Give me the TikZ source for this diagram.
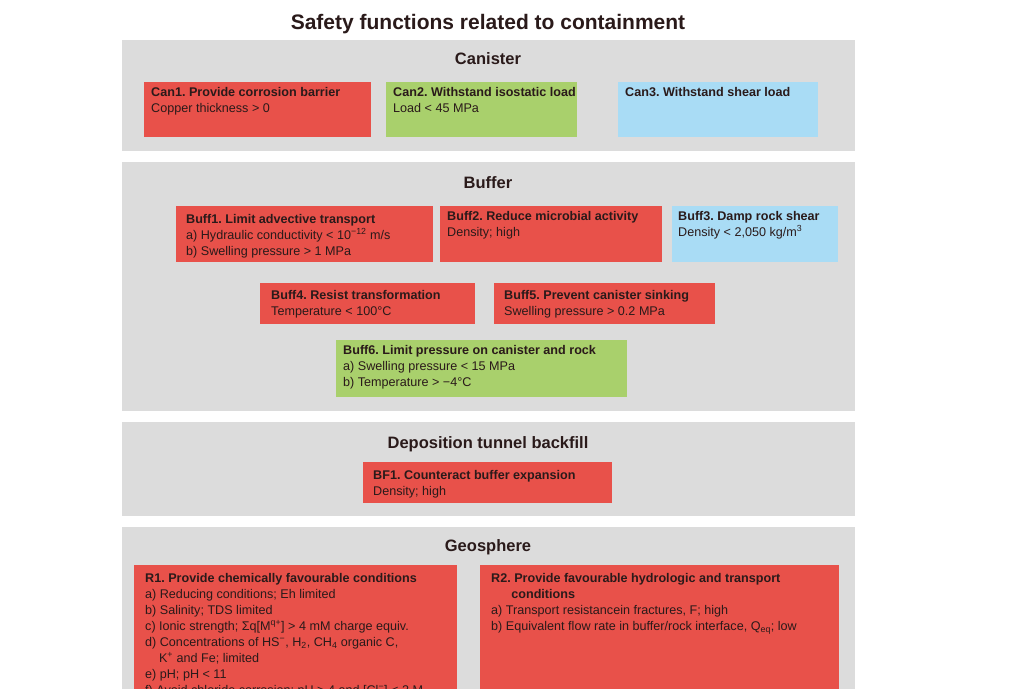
\documentclass[tikz,border=0pt]{standalone}
\usepackage{fontspec}
\setmainfont{Liberation Sans}
\frenchspacing
\definecolor{panelgray}{HTML}{DCDCDC}
\definecolor{sfred}{HTML}{E8514A}
\definecolor{sfgreen}{HTML}{A9D06C}
\definecolor{sfblue}{HTML}{A9DCF5}
\definecolor{sftext}{HTML}{2A1A1A}
\tikzset{
  panel/.style={fill=panelgray, anchor=north west, inner sep=0pt, minimum width=733pt},
  sfbox/.style={anchor=north west, inner sep=0pt},
  sftxt/.style={anchor=north west, inner sep=0pt, align=left, text=sftext,
    font=\fontsize{12.6}{16}\selectfont},
  heading/.style={font=\fontsize{16.5}{18}\selectfont\bfseries, text=sftext},
}
\begin{document}
\begin{tikzpicture}[x=1pt, y=-1pt]
\useasboundingbox (0,0) rectangle (1024,688);
\clip (0,0) rectangle (1024,688);
\fill[white] (0,0) rectangle (1024,688);

\node[font=\fontsize{21}{24}\selectfont\bfseries, text=sftext] (title) at (488,24) {Safety functions related to containment};

% panels
\node[panel, minimum height=111pt] (pcan) at (122,40) {};
\node[panel, minimum height=249pt] (pbuff) at (122,162) {};
\node[panel, minimum height=94pt] (pbf) at (122,422) {};
\node[panel, minimum height=200pt] (pgeo) at (122,527) {};
\node[heading] (hcan) at (488,59) {Canister};
\node[heading] (hbuff) at (488,183) {Buffer};
\node[heading] (hbf) at (488,444) {Deposition tunnel backfill};
\node[heading] (hgeo) at (488,547) {Geosphere};

% canister
\node[sfbox, fill=sfred, minimum width=227pt, minimum height=55pt] (can1) at (144,82) {};
\node[sftxt] at ([shift={(7,5)}]can1.north west) {\textbf{Can1. Provide corrosion barrier}\\Copper thickness > 0};
\node[sfbox, fill=sfgreen, minimum width=191pt, minimum height=55pt] (can2) at (386,82) {};
\node[sftxt] at ([shift={(7,5)}]can2.north west) {\textbf{Can2. Withstand isostatic load}\\Load < 45 MPa};
\node[sfbox, fill=sfblue, minimum width=200pt, minimum height=55pt] (can3) at (618,82) {};
\node[sftxt] at ([shift={(7,5)}]can3.north west) {\textbf{Can3. Withstand shear load}};

% buffer
\node[sfbox, fill=sfred, minimum width=257pt, minimum height=56pt] (buff1) at (176,206) {};
\node[sftxt] at ([shift={(10,8)}]buff1.north west) {\textbf{Buff1. Limit advective transport}\\a) Hydraulic conductivity < 10\textsuperscript{−12} m/s\\b) Swelling pressure > 1 MPa};
\node[sfbox, fill=sfred, minimum width=222pt, minimum height=56pt] (buff2) at (440,206) {};
\node[sftxt] at ([shift={(7,5)}]buff2.north west) {\textbf{Buff2. Reduce microbial activity}\\Density; high};
\node[sfbox, fill=sfblue, minimum width=166pt, minimum height=56pt] (buff3) at (672,206) {};
\node[sftxt] at ([shift={(6,5)}]buff3.north west) {\textbf{Buff3. Damp rock shear}\\Density < 2,050 kg/m\textsuperscript{3}};
\node[sfbox, fill=sfred, minimum width=215pt, minimum height=41pt] (buff4) at (260,283) {};
\node[sftxt] at ([shift={(11,7)}]buff4.north west) {\textbf{Buff4. Resist transformation}\\Temperature < 100°C};
\node[sfbox, fill=sfred, minimum width=221pt, minimum height=41pt] (buff5) at (494,283) {};
\node[sftxt] at ([shift={(10,7)}]buff5.north west) {\textbf{Buff5. Prevent canister sinking}\\Swelling pressure > 0.2 MPa};
\node[sfbox, fill=sfgreen, minimum width=291pt, minimum height=57pt] (buff6) at (336,340) {};
\node[sftxt] at ([shift={(7,5)}]buff6.north west) {\textbf{Buff6. Limit pressure on canister and rock}\\a) Swelling pressure < 15 MPa\\b) Temperature > −4°C};

% backfill
\node[sfbox, fill=sfred, minimum width=249pt, minimum height=41pt] (bf1) at (363,462) {};
\node[sftxt] at ([shift={(10,8)}]bf1.north west) {\textbf{BF1. Counteract buffer expansion}\\Density; high};

% geosphere
\node[sfbox, fill=sfred, minimum width=323pt, minimum height=160pt] (r1) at (134,565) {};
\node[sftxt] at ([shift={(11,8)}]r1.north west) {\textbf{R1. Provide chemically favourable conditions}\\a) Reducing conditions; Eh limited\\b) Salinity; TDS limited\\c) Ionic strength; Σq[M\textsuperscript{q+}] > 4 mM charge equiv.\\d) Concentrations of HS\textsuperscript{−}, H\textsubscript{2}, CH\textsubscript{4} organic C,\\\hspace{1.1em}K\textsuperscript{+} and Fe; limited\\e) pH; pH < 11\\f) Avoid chloride corrosion; pH > 4 and [Cl\textsuperscript{−}] < 2 M};
\node[sfbox, fill=sfred, minimum width=359pt, minimum height=160pt] (r2) at (480,565) {};
\node[sftxt] at ([shift={(11,8)}]r2.north west) {\textbf{R2. Provide favourable hydrologic and transport}\\\hspace{1.6em}\textbf{conditions}\\a) Transport resistancein fractures, F; high\\b) Equivalent flow rate in buffer/rock interface, Q\textsubscript{eq}; low};
\end{tikzpicture}
\end{document}
